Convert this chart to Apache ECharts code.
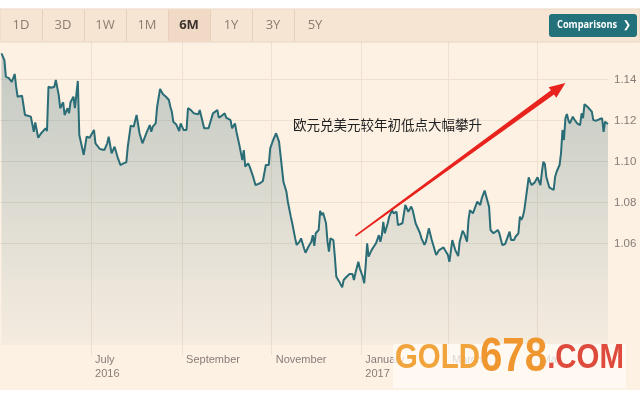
<!DOCTYPE html>
<html><head><meta charset="utf-8">
<script src="https://cdn.jsdelivr.net/npm/echarts@6/dist/echarts.min.js"></script>
<style>html,body{margin:0;padding:0;background:#fff}#c{width:640px;height:400px}</style>
</head><body><div id="c"></div>
<script>
const dates = ['2016-05-01','2016-05-03','2016-05-04','2016-05-06','2016-05-08','2016-05-10','2016-05-11','2016-05-12','2016-05-15','2016-05-17','2016-05-19','2016-05-21','2016-05-23','2016-05-24','2016-05-26','2016-05-28','2016-05-29','2016-05-31','2016-06-01','2016-06-02','2016-06-04','2016-06-06','2016-06-07','2016-06-09','2016-06-10','2016-06-12','2016-06-13','2016-06-15','2016-06-16','2016-06-17','2016-06-19','2016-06-20','2016-06-22','2016-06-23','2016-06-26','2016-06-28','2016-06-30','2016-07-03','2016-07-04','2016-07-07','2016-07-10','2016-07-12','2016-07-13','2016-07-15','2016-07-17','2016-07-19','2016-07-20','2016-07-21','2016-07-23','2016-07-25','2016-07-26','2016-07-28','2016-07-30','2016-08-01','2016-08-03','2016-08-05','2016-08-06','2016-08-08','2016-08-10','2016-08-11','2016-08-12','2016-08-14','2016-08-15','2016-08-17','2016-08-19','2016-08-21','2016-08-23','2016-08-24','2016-08-25','2016-08-26','2016-08-28','2016-08-30','2016-08-31','2016-09-02','2016-09-04','2016-09-05','2016-09-07','2016-09-09','2016-09-12','2016-09-13','2016-09-16','2016-09-17','2016-09-19','2016-09-21','2016-09-22','2016-09-25','2016-09-26','2016-09-28','2016-09-30','2016-10-01','2016-10-04','2016-10-05','2016-10-07','2016-10-08','2016-10-10','2016-10-12','2016-10-13','2016-10-14','2016-10-16','2016-10-17','2016-10-19','2016-10-21','2016-10-22','2016-10-24','2016-10-26','2016-10-28','2016-10-30','2016-10-31','2016-11-02','2016-11-04','2016-11-06','2016-11-07','2016-11-09','2016-11-11','2016-11-12','2016-11-14','2016-11-15','2016-11-17','2016-11-18','2016-11-20','2016-11-21','2016-11-23','2016-11-24','2016-11-26','2016-11-28','2016-11-29','2016-11-30','2016-12-01','2016-12-03','2016-12-04','2016-12-05','2016-12-06','2016-12-08','2016-12-09','2016-12-10','2016-12-11','2016-12-13','2016-12-14','2016-12-15','2016-12-16','2016-12-17','2016-12-19','2016-12-20','2016-12-22','2016-12-24','2016-12-26','2016-12-27','2016-12-28','2016-12-30','2016-12-31','2017-01-02','2017-01-03','2017-01-04','2017-01-05','2017-01-06','2017-01-08','2017-01-09','2017-01-11','2017-01-13','2017-01-14','2017-01-15','2017-01-16','2017-01-17','2017-01-19','2017-01-20','2017-01-22','2017-01-23','2017-01-25','2017-01-26','2017-01-27','2017-01-29','2017-01-31','2017-02-01','2017-02-02','2017-02-04','2017-02-05','2017-02-07','2017-02-08','2017-02-10','2017-02-11','2017-02-13','2017-02-14','2017-02-16','2017-02-18','2017-02-19','2017-02-21','2017-02-23','2017-02-24','2017-02-26','2017-02-27','2017-03-01','2017-03-02','2017-03-04','2017-03-05','2017-03-06','2017-03-08','2017-03-09','2017-03-11','2017-03-12','2017-03-14','2017-03-15','2017-03-16','2017-03-18','2017-03-19','2017-03-21','2017-03-23','2017-03-24','2017-03-26','2017-03-27','2017-03-29','2017-03-30','2017-04-01','2017-04-04','2017-04-05','2017-04-07','2017-04-09','2017-04-10','2017-04-12','2017-04-13','2017-04-15','2017-04-16','2017-04-18','2017-04-19','2017-04-20','2017-04-21','2017-04-22','2017-04-24','2017-04-25','2017-04-26','2017-04-27','2017-04-29','2017-04-30','2017-05-01','2017-05-03','2017-05-04','2017-05-05','2017-05-06','2017-05-07','2017-05-09','2017-05-10','2017-05-12','2017-05-13','2017-05-14','2017-05-16','2017-05-17','2017-05-18','2017-05-19','2017-05-20','2017-05-21','2017-05-22','2017-05-23','2017-05-25','2017-05-26','2017-05-28','2017-05-30','2017-05-31','2017-06-01','2017-06-02','2017-06-04','2017-06-05','2017-06-07','2017-06-08','2017-06-10','2017-06-12','2017-06-14','2017-06-15','2017-06-16','2017-06-18'];
const rates = [1.1528,1.1495,1.1414,1.1407,1.1388,1.1427,1.1365,1.1316,1.1321,1.1227,1.1223,1.1219,1.1145,1.1191,1.1116,1.1138,1.1133,1.1162,1.1149,1.1365,1.1360,1.1365,1.1398,1.1324,1.1260,1.1289,1.1227,1.1260,1.1235,1.1289,1.1316,1.1260,1.1393,1.1129,1.1032,1.1121,1.1116,1.1154,1.1089,1.1061,1.1056,1.1089,1.1121,1.1040,1.1072,1.1023,1.1028,1.0983,1.0991,1.0996,1.1072,1.1175,1.1170,1.1227,1.1138,1.1089,1.1097,1.1145,1.1178,1.1145,1.1170,1.1186,1.1267,1.1354,1.1328,1.1316,1.1300,1.1267,1.1243,1.1194,1.1181,1.1149,1.1186,1.1154,1.1154,1.1260,1.1251,1.1235,1.1230,1.1251,1.1162,1.1170,1.1162,1.1211,1.1235,1.1251,1.1214,1.1223,1.1235,1.1214,1.1202,1.1162,1.1186,1.1145,1.1080,1.1007,1.1056,1.0975,1.0991,1.0975,1.0934,1.0885,1.0882,1.0894,1.0905,1.0983,1.0983,1.1064,1.1105,1.1138,1.1097,1.1032,1.0901,1.0853,1.0804,1.0731,1.0699,1.0625,1.0593,1.0609,1.0625,1.0577,1.0555,1.0584,1.0609,1.0641,1.0588,1.0650,1.0666,1.0760,1.0739,1.0750,1.0699,1.0609,1.0560,1.0625,1.0617,1.0536,1.0438,1.0446,1.0414,1.0386,1.0422,1.0438,1.0451,1.0451,1.0422,1.0455,1.0511,1.0479,1.0438,1.0406,1.0495,1.0601,1.0536,1.0568,1.0568,1.0601,1.0641,1.0609,1.0641,1.0706,1.0650,1.0699,1.0731,1.0763,1.0747,1.0755,1.0690,1.0699,1.0699,1.0788,1.0780,1.0755,1.0780,1.0763,1.0699,1.0690,1.0650,1.0625,1.0593,1.0609,1.0674,1.0617,1.0614,1.0544,1.0568,1.0560,1.0581,1.0568,1.0544,1.0511,1.0617,1.0593,1.0568,1.0539,1.0609,1.0662,1.0650,1.0609,1.0715,1.0763,1.0747,1.0755,1.0804,1.0788,1.0820,1.0858,1.0832,1.0780,1.0666,1.0650,1.0666,1.0650,1.0593,1.0598,1.0601,1.0658,1.0617,1.0617,1.0633,1.0650,1.0731,1.0715,1.0731,1.0763,1.0869,1.0923,1.0901,1.0885,1.0897,1.0901,1.0923,1.0885,1.0950,1.0999,1.0988,1.0926,1.0874,1.0869,1.0861,1.0926,1.0950,1.0983,1.1040,1.1154,1.1105,1.1211,1.1232,1.1202,1.1186,1.1219,1.1206,1.1186,1.1178,1.1235,1.1211,1.1280,1.1267,1.1276,1.1243,1.1202,1.1199,1.1206,1.1211,1.1145,1.1194,1.1183];
const yTicks = [1.06, 1.08, 1.10, 1.12, 1.14];
const xTickDates = ['2016-07-01','2016-09-01','2016-11-01','2017-01-01','2017-03-01','2017-05-01'];
const xTickLabels = ['July\n2016','September','November','January\n2017','March','May'];
const xRange = ['2016-04-30','2017-06-18'];
const yRange = [1.0105, 1.1583];
const rangeButtons = ['1D','3D','1W','1M','6M','1Y','3Y','5Y'];
const selectedRange = '6M';
const buttonLabel = 'Comparisons';
const annotation = '欧元兑美元较年初低点大幅攀升';
const arrowFrom = ['2016-12-28', 1.0637];
const arrowTo = ['2017-05-20', 1.1383];
const watermark = ['GOLD', '678', '.COM'];

function toTime(s) { const p = s.split('-').map(Number); return Date.UTC(p[0], p[1]-1, p[2]); }
const tickTimes = xTickDates.map(toTime);
const seriesData = dates.map((d, i) => [toTime(d), rates[i]]);

const chart = echarts.init(document.getElementById('c'), null, {renderer: 'canvas'});
const gridColor = '#efe0cf';
const labelFont = "'Liberation Sans', Arial, sans-serif";
const wmFont = "'Liberation Sans', Arial, sans-serif";

function staticGraphics() {
  const g = [];
  g.push({type:'rect', shape:{x:0,y:0,width:640,height:9}, style:{fill:'#ffffff'}, z:50});
  g.push({type:'rect', shape:{x:0,y:390,width:640,height:10}, style:{fill:'#ffffff'}, z:50});
  g.push({type:'rect', shape:{x:0,y:9,width:640,height:33}, style:{fill:'#f7e5d4', stroke:'#ead5c1', lineWidth:1}, z:50});
  rangeButtons.forEach((b, i) => {
    const x0 = i * 42;
    if (b === selectedRange) g.push({type:'rect', shape:{x:x0,y:9.5,width:42,height:32}, style:{fill:'#f0dac6'}, z:51});
    if (i < 7) g.push({type:'line', shape:{x1:x0+42.5,y1:10,x2:x0+42.5,y2:41}, style:{stroke:'#e6d0bb', lineWidth:1}, z:52});
    g.push({type:'text', x:x0+21, y:25.5, style:{text:b, align:'center', verticalAlign:'middle',
      font:(b===selectedRange?'bold ':'')+"13px 'Open Sans', sans-serif", fill: b===selectedRange?'#3b332d':'#8c7b6e'}, z:53});
  });
  g.push({type:'rect', shape:{x:549,y:14,width:88,height:23,r:3}, style:{fill:'#23717a'}, z:53});
  g.push({type:'text', x:557, y:25.5, scaleX:0.88, style:{text:buttonLabel, verticalAlign:'middle', font:"bold 10.5px 'Open Sans', sans-serif", fill:'#ffffff'}, z:54});
  g.push({type:'text', x:627, y:25.5, style:{text:'❯', verticalAlign:'middle', align:'center', font:"bold 10px 'DejaVu Sans', sans-serif", fill:'#ffffff'}, z:54});
  g.push({type:'text', x:293, y:125, style:{text:annotation, verticalAlign:'middle', font:"13.5px 'Noto Sans CJK SC', sans-serif", fill:'#1e1e1e'}, z:60});
  g.push({type:'rect', shape:{x:393,y:344,width:233,height:44}, style:{fill:'rgba(255,252,246,0.72)'}, z:70});
  g.push({type:'text', x:395, y:382, scaleX:0.84, style:{
    text:'{a|'+watermark[0]+'}{b|'+watermark[1]+'}{c|'+watermark[2]+'}', verticalAlign:'bottom',
    rich:{
      a:{font:"bold 35px "+wmFont, fill:'#f2a43c'},
      b:{font:"bold 48px "+wmFont, fill:'#f0962f'},
      c:{font:"bold 35px "+wmFont, fill:'#de4a3b'}
    }}, z:71});
  return g;
}

chart.setOption({
  animation: false,
  backgroundColor: '#fdf1e4',
  grid: {left:0, right:32, top:42, bottom:55, containLabel:false, outerBoundsMode:'none'},
  xAxis: {
    type:'value', min: toTime(xRange[0]), max: toTime(xRange[1]),
    axisLine:{show:false},
    axisTick:{show:true, length:10, lineStyle:{color:gridColor}, customValues: tickTimes},
    splitLine:{show:true, lineStyle:{color:gridColor, width:1}},
    axisLabel:{customValues: tickTimes, align:'left', margin:8, padding:[0,0,0,4],
      color:'#857d77', fontSize:11, fontFamily:labelFont, lineHeight:14,
      formatter: function (v) { for (let i = 0; i < tickTimes.length; i++) { if (Math.abs(tickTimes[i]-v) < 3600000) return xTickLabels[i]; } return ''; }}
  },
  yAxis: {
    type:'value', position:'right', min:yRange[0], max:yRange[1],
    axisLine:{show:false},
    axisTick:{show:false, customValues: yTicks},
    splitLine:{show:true, lineStyle:{color:gridColor, width:1}},
    axisLabel:{customValues: yTicks, margin:6, color:'#857d77', fontSize:11.5, fontFamily:labelFont,
      formatter: v => v.toFixed(2)}
  },
  series: [{
    type:'line', data: seriesData, showSymbol:false, symbol:'none',
    lineStyle:{color:'#2a6d76', width:2},
    areaStyle:{color: new echarts.graphic.LinearGradient(0,0,0,1,[
      {offset:0, color:'rgba(42,98,108,0.40)'},
      {offset:1, color:'rgba(42,98,108,0.05)'}])},
    z:3
  }],
  graphic: staticGraphics()
});

const p0 = chart.convertToPixel({gridIndex:0}, [toTime(arrowFrom[0]), arrowFrom[1]]);
const p1 = chart.convertToPixel({gridIndex:0}, [toTime(arrowTo[0]), arrowTo[1]]);
const dx = p1[0]-p0[0], dy = p1[1]-p0[1], L = Math.hypot(dx, dy);
const ux = dx/L, uy = dy/L, nx = -uy, ny = ux;
const head = 16, hw = 6.5, tail = 0.8, neck = 2.6;
const bx = p1[0]-ux*head, by = p1[1]-uy*head;
const arrowPts = [
  [p0[0]+nx*tail, p0[1]+ny*tail], [bx+nx*neck, by+ny*neck], [bx+nx*hw, by+ny*hw], [p1[0], p1[1]],
  [bx-nx*hw, by-ny*hw], [bx-nx*neck, by-ny*neck], [p0[0]-nx*tail, p0[1]-ny*tail]];
const allG = staticGraphics();
allG.push({type:'polygon', shape:{points: arrowPts}, style:{fill:'#e8231d'}, z:65});
chart.setOption({graphic: allG}, {replaceMerge:['graphic']});
</script></body></html>
